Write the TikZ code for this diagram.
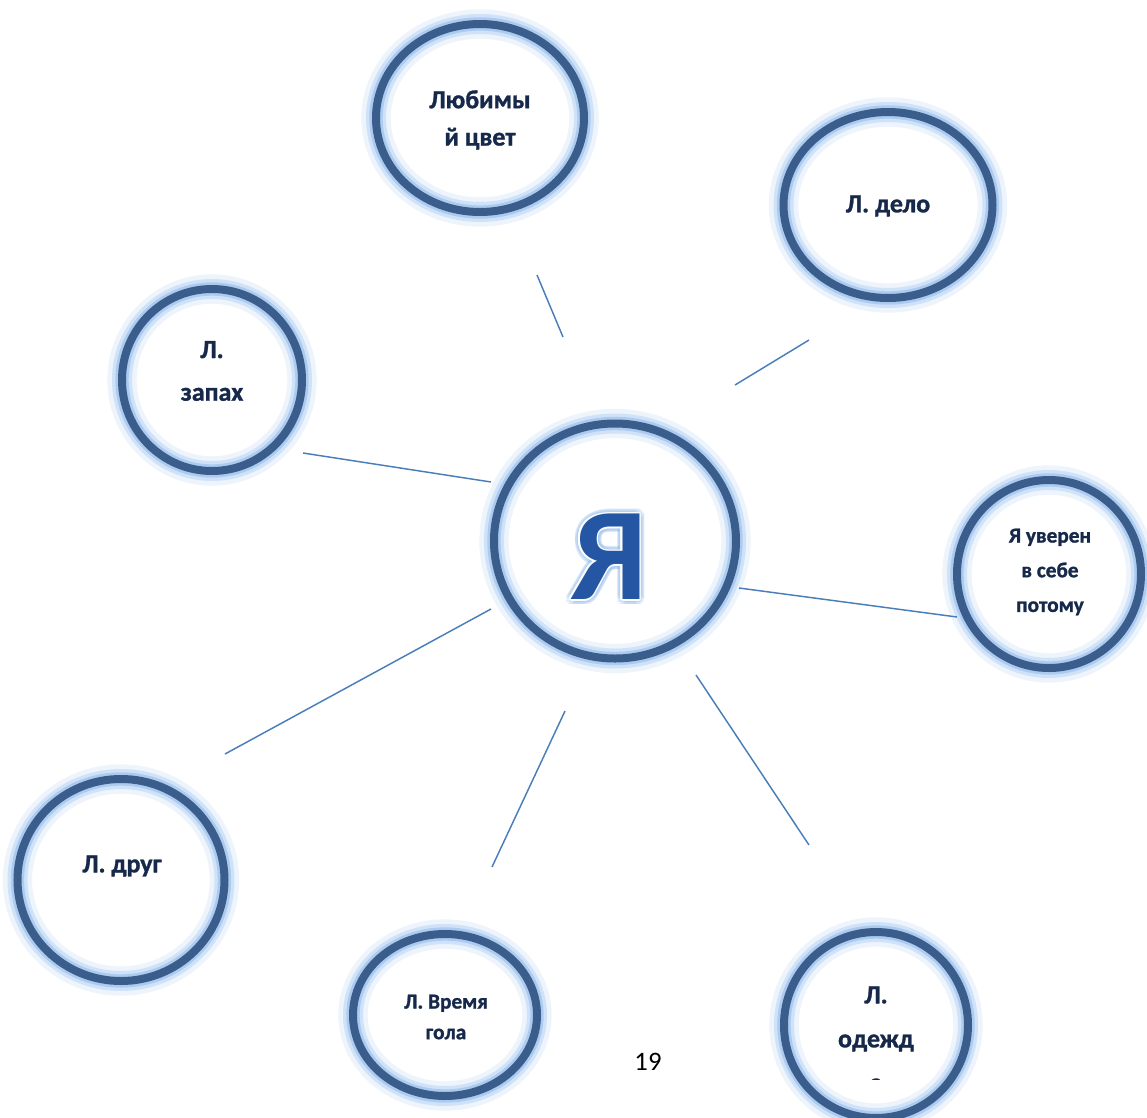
\documentclass[tikz,border=0pt]{standalone}
\usepackage{fontspec}
\setmainfont{Carlito}
\usetikzlibrary{shapes.geometric,fadings,calc}
\definecolor{ring}{HTML}{3A5D8B}
\definecolor{glowc}{HTML}{8DB9EC}
\definecolor{linec}{HTML}{4A7EBB}
\definecolor{txt}{HTML}{17294A}
\definecolor{yatop}{HTML}{6699E2}
\definecolor{yabot}{HTML}{2456A4}
\newcommand{\yafont}{\fontsize{99}{99}\selectfont\bfseries}
\newcommand{\lblfont}[2]{\bfseries\addfontfeatures{FakeBold=1.2}\fontsize{#1}{#2}\selectfont}
\begin{tikzfadingfrompicture}[name=yafade]
\node[text=transparent!0, font=\yafont, inner sep=0pt] (yf) {Я};
\end{tikzfadingfrompicture}
\begin{document}
\begin{tikzpicture}[x=0.75pt,y=-0.75pt,
  bub/.style={ellipse, draw=ring, line width=6pt, inner sep=0pt,
    preaction={draw=glowc, draw opacity=0.15, line width=22pt},
    preaction={draw=glowc, draw opacity=0.3, line width=15pt},
    preaction={draw=glowc, draw opacity=0.55, line width=10pt}},
  conn/.style={draw=linec, line width=1.1pt},
  lbl/.style={text=txt, font=\lblfont{19.5}{28}, align=center, inner sep=0pt}]
\fill[white] (0,0) rectangle (1147,1118);
\useasboundingbox (0,0) rectangle (1147,1118);

% bubbles
\node[bub, minimum width=181.5pt, minimum height=176.25pt] (ya) at (615,541) {};
\node[bub, minimum width=156pt, minimum height=141pt] (col) at (480,118) {};
\node[bub, minimum width=156.75pt, minimum height=139.5pt] (del) at (888,205) {};
\node[bub, minimum width=135pt, minimum height=136.5pt] (zap) at (212,380) {};
\node[bub, minimum width=138pt, minimum height=141pt] (uv) at (1049,574) {};
\node[bub, minimum width=155.25pt, minimum height=151.5pt] (dr) at (121,880) {};
\node[bub, minimum width=138pt, minimum height=121.5pt] (vr) at (445,1015) {};
\node[bub, minimum width=138pt, minimum height=139.5pt] (od) at (876,1025) {};

% big letter
\coordinate (yac) at (609,557);
\foreach \a in {0,30,...,330}
  \node[font=\yafont, text=glowc, text opacity=0.22, inner sep=0pt] (yg\a) at ($(yac)+(\a:5)$) {Я};
\foreach \a in {0,45,...,315}
  \node[font=\yafont, text=white, inner sep=0pt] (yw\a) at ($(yac)+(\a:1.6)$) {Я};
\node[font=\yafont, text=yabot, inner sep=0pt] (yaletter) at (yac) {Я};
\shade[top color=yatop, bottom color=yabot, path fading=yafade, fit fading=false]
  ($(yac)+(-70,-80)$) rectangle ($(yac)+(70,80)$);

% connectors
\coordinate (c1a) at (563,337); \coordinate (c1b) at (537,275);
\coordinate (c2a) at (735,385); \coordinate (c2b) at (809,340);
\coordinate (c3a) at (491,482); \coordinate (c3b) at (303,453);
\coordinate (c4a) at (739,588); \coordinate (c4b) at (957,617);
\coordinate (c5a) at (491,609); \coordinate (c5b) at (225,754);
\coordinate (c6a) at (565,711); \coordinate (c6b) at (492,867);
\coordinate (c7a) at (696,675); \coordinate (c7b) at (809,845);
\draw[conn] (c1a) -- (c1b);
\draw[conn] (c2a) -- (c2b);
\draw[conn] (c3a) -- (c3b);
\draw[conn] (c4a) -- (c4b);
\draw[conn] (c5a) -- (c5b);
\draw[conn] (c6a) -- (c6b);
\draw[conn] (c7a) -- (c7b);

% page number
\node[font=\fontsize{20}{24}\selectfont, text=black, inner sep=0pt] (pg) at (648,1062) {19};

% labels
\node[lbl, font=\lblfont{19.5}{28}] (tcol) at (480,120) {Любимы\\й цвет};
\node[lbl] (tdel) at (888,206) {Л. дело};
\node[lbl, font=\lblfont{19.5}{32}] (tzap) at (212,371) {Л.\\запах};
\node[lbl, font=\lblfont{16}{26}] (tuv) at (1050,572) {Я уверен\\в себе\\потому};
\node[lbl] (tdr) at (122,866) {Л. друг};
\node[lbl, font=\lblfont{16}{23}] (tvr) at (446,1017) {Л. Время\\гола};
\begin{scope}
\clip (700,900) rectangle (1000,1079);
\node[lbl, font=\lblfont{19.5}{33}] (tod) at (876,1039) {Л.\\одежд\\а};
\end{scope}
\end{tikzpicture}
\end{document}
